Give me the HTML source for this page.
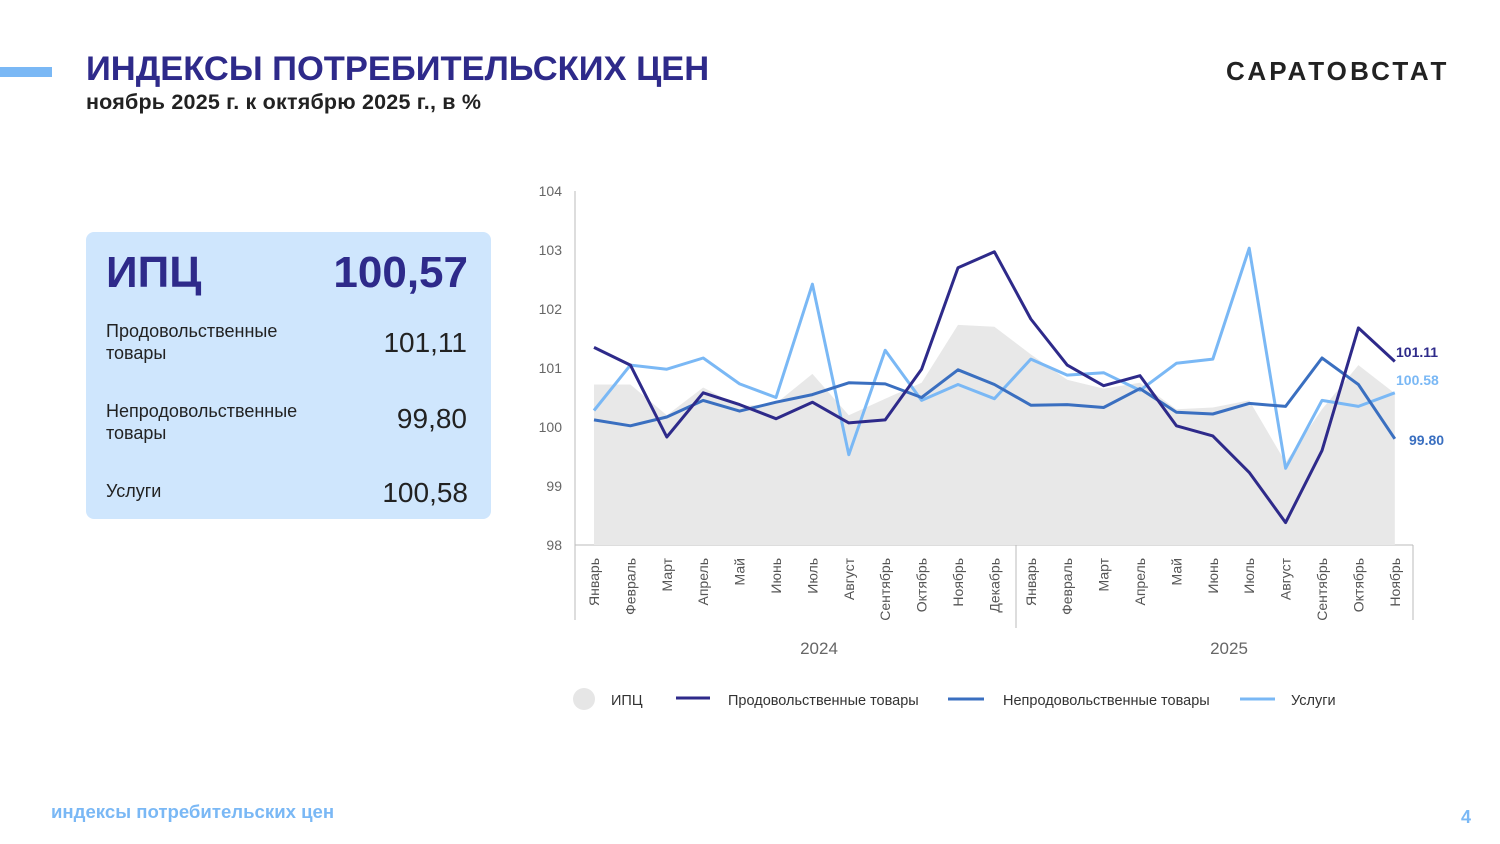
<!DOCTYPE html>
<html><head><meta charset="utf-8"><style>
body{margin:0;width:1500px;height:844px;background:#fff;font-family:"Liberation Sans",sans-serif;overflow:hidden;position:relative}
.t{position:absolute}
</style></head><body>
<div class="t" style="left:0;top:67px;width:52px;height:10px;background:#7ab8f5"></div>
<div class="t" style="left:86px;top:50px;font-size:34.5px;font-weight:bold;color:#2e2a8a">ИНДЕКСЫ ПОТРЕБИТЕЛЬСКИХ ЦЕН</div>
<div class="t" style="left:86px;top:90px;font-size:21.5px;font-weight:bold;color:#222;letter-spacing:0.2px">ноябрь 2025 г. к октябрю 2025 г., в %</div>
<div class="t" style="left:1226px;top:56px;font-size:26px;font-weight:bold;color:#222;letter-spacing:3.2px">САРАТОВСТАТ</div>
<div class="t" style="left:86px;top:232px;width:405px;height:287px;background:#cfe6fd;border-radius:8px"></div>
<div class="t" style="left:106px;top:248px;font-size:44px;font-weight:bold;color:#2e2a8a">ИПЦ</div>
<div class="t" style="left:300px;top:248px;width:168px;text-align:right;font-size:44px;font-weight:bold;color:#2e2a8a">100,57</div>
<div class="t" style="left:106px;top:320px;font-size:18px;color:#222;line-height:22px">Продовольственные<br>товары</div>
<div class="t" style="left:300px;top:327px;width:167px;text-align:right;font-size:28px;color:#222">101,11</div>
<div class="t" style="left:106px;top:400px;font-size:18px;color:#222;line-height:22px">Непродовольственные<br>товары</div>
<div class="t" style="left:300px;top:403px;width:167px;text-align:right;font-size:28px;color:#222">99,80</div>
<div class="t" style="left:106px;top:481px;font-size:18px;color:#222">Услуги</div>
<div class="t" style="left:300px;top:477px;width:168px;text-align:right;font-size:28px;color:#222">100,58</div>
<div class="t" style="left:51px;top:801px;font-size:18.6px;font-weight:bold;color:#7ab8f5">индексы потребительских цен</div>
<div class="t" style="left:1461px;top:807px;font-size:18px;font-weight:bold;color:#7ab8f5">4</div>
<svg class="t" style="left:0;top:0" width="1500" height="844" font-family="Liberation Sans, sans-serif">
<g font-size="14" fill="#666" text-anchor="end">
<text x="562" y="196">104</text><text x="562" y="255">103</text><text x="562" y="314">102</text><text x="562" y="373">101</text><text x="562" y="432">100</text><text x="562" y="491">99</text><text x="562" y="550">98</text>
</g>
<line x1="575" y1="191" x2="575" y2="620" stroke="#bbb"/>
<line x1="575" y1="545" x2="1413" y2="545" stroke="#bbb"/>
<line x1="1016" y1="545" x2="1016" y2="628" stroke="#bbb"/>
<line x1="1413" y1="545" x2="1413" y2="620" stroke="#bbb"/>
<g id="pts"></g>
<g font-size="14" fill="#555" id="months"></g>
<text x="819" y="654" font-size="17" fill="#666" text-anchor="middle">2024</text>
<text x="1229" y="654" font-size="17" fill="#666" text-anchor="middle">2025</text>
<text x="1396" y="357" font-size="14" font-weight="bold" fill="#2e2a8a">101.11</text>
<text x="1396" y="385" font-size="14" font-weight="bold" fill="#7ab8f5">100.58</text>
<text x="1409" y="445" font-size="14" font-weight="bold" fill="#3a6fc0">99.80</text>
<circle cx="584" cy="699" r="11" fill="#e6e6e6"/>
<text x="611" y="705" font-size="14.5" fill="#333">ИПЦ</text>
<line x1="676" y1="698" x2="710" y2="698" stroke="#2e2a8a" stroke-width="3"/>
<text x="728" y="705" font-size="14.5" fill="#333">Продовольственные товары</text>
<line x1="948" y1="699" x2="984" y2="699" stroke="#3a6fc0" stroke-width="3"/>
<text x="1003" y="705" font-size="14.5" fill="#333">Непродовольственные товары</text>
<line x1="1240" y1="699" x2="1275" y2="699" stroke="#7ab8f5" stroke-width="3"/>
<text x="1291" y="705" font-size="14.5" fill="#333">Услуги</text>
</svg>
<script>
const M=["Январь","Февраль","Март","Апрель","Май","Июнь","Июль","Август","Сентябрь","Октябрь","Ноябрь","Декабрь","Январь","Февраль","Март","Апрель","Май","Июнь","Июль","Август","Сентябрь","Октябрь","Ноябрь"];
const X=i=>594+i*36.4,Y=v=>545-(v-98)*59;
const cpi=[100.72,100.72,100.2,100.67,100.35,100.4,100.9,100.2,100.48,100.75,101.73,101.7,101.23,100.8,100.65,100.75,100.3,100.33,100.45,99.4,100.3,101.05,100.57];
const food=[101.35,101.05,99.83,100.58,100.38,100.14,100.42,100.07,100.12,100.98,102.7,102.97,101.83,101.05,100.7,100.87,100.02,99.85,99.23,98.38,99.6,101.68,101.11];
const nf=[100.12,100.02,100.17,100.45,100.27,100.42,100.55,100.75,100.73,100.5,100.97,100.72,100.37,100.38,100.33,100.65,100.25,100.22,100.4,100.35,101.17,100.72,99.8];
const sv=[100.28,101.05,100.98,101.17,100.73,100.5,102.42,99.53,101.3,100.45,100.72,100.48,101.15,100.88,100.92,100.62,101.08,101.15,103.03,99.3,100.45,100.35,100.58];
const pl=a=>a.map((v,i)=>X(i).toFixed(1)+","+Y(v).toFixed(1)).join(" ");
let s='<polygon points="'+X(0)+',545 '+pl(cpi)+' '+X(22)+',545" fill="#e8e8e8"/>';
[[sv,"#7ab8f5"],[nf,"#3a6fc0"],[food,"#2e2a8a"]].forEach(([a,c])=>s+='<polyline points="'+pl(a)+'" fill="none" stroke="'+c+'" stroke-width="3" stroke-linejoin="round"/>');
document.getElementById("pts").innerHTML=s;
let m="";M.forEach((t,i)=>m+='<text transform="translate('+(X(i)+5)+',558) rotate(-90)" text-anchor="end">'+t+'</text>');
document.getElementById("months").innerHTML=m;
</script>
</body></html>
